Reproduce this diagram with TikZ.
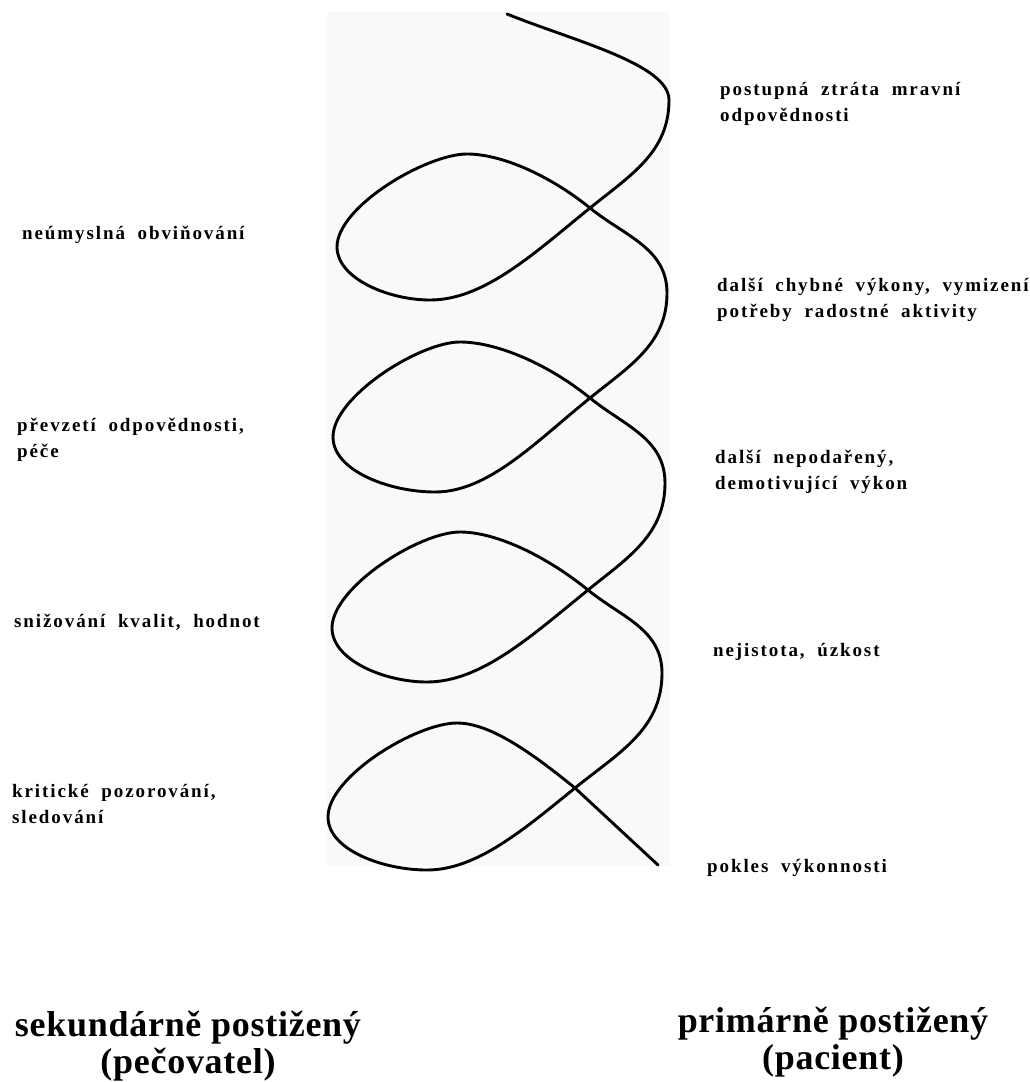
\documentclass[tikz,border=0pt]{standalone}
\usepackage{fontspec}
\setmainfont{Liberation Serif}
\newfontfamily\lblfont[LetterSpace=10,WordSpace=1.9]{Liberation Serif}
\newfontfamily\ttlfont[LetterSpace=2]{Liberation Serif}
\usetikzlibrary{positioning}
\definecolor{scangray}{RGB}{249,249,249}
\tikzset{lbl/.style={anchor=base west,align=left,inner sep=0pt,font=\lblfont\bfseries\fontsize{19}{26}\selectfont},ttl/.style={anchor=base,align=center,inner sep=0pt,font=\ttlfont\bfseries\fontsize{36}{37}\selectfont},curve/.style={line width=2.9pt,line cap=round,line join=round}}

\begin{document}
\begin{tikzpicture}[x=1pt,y=1pt]
\useasboundingbox (0,0) rectangle (1030,-1082);
\fill[scangray] (327,-12) rectangle (670,-866);
% turning points of the curve
\coordinate (s) at (507,-14);
\coordinate (r0) at (669,-100);
\coordinate (c1) at (590,-208);
\coordinate (b1) at (430,-300);
\coordinate (l1) at (337,-247);
\coordinate (t1) at (467,-154);
\coordinate (r1) at (667,-293);
\coordinate (c2) at (590,-398);
\coordinate (b2) at (435,-492);
\coordinate (l2) at (333,-437);
\coordinate (t2) at (460,-342);
\coordinate (r2) at (665,-483);
\coordinate (c3) at (588,-590);
\coordinate (b3) at (427,-682);
\coordinate (l3) at (332,-628);
\coordinate (t3) at (460,-532);
\coordinate (r3) at (662,-673);
\coordinate (c4) at (575,-788);
\coordinate (b4) at (427,-870);
\coordinate (l4) at (328,-817);
\coordinate (t4) at (457,-723);
\coordinate (e) at (658,-865);
\tikzset{down/.style={out=-141,in=0,in looseness=0.75},
  tip/.style={out=180,in=-90,in looseness=0.75},
  up/.style={out=90,in=180,out looseness=0.65,in looseness=0.65},
  over/.style={out=0,in=141,out looseness=0.65}}
\draw[curve] (s) to[out=-22,in=90,in looseness=0.5] (r0)
  to[out=-90,in=39] (c1) to[down] (b1) to[tip] (l1) to[up] (t1)
  to[over] (c1) to[out=-39,in=90] (r1)
  to[out=-90,in=39] (c2) to[down] (b2) to[tip] (l2) to[up] (t2)
  to[over] (c2) to[out=-39,in=90] (r2)
  to[out=-90,in=39] (c3) to[down] (b3) to[tip] (l3) to[up] (t3)
  to[over] (c3) to[out=-39,in=90] (r3)
  to[out=-90,in=39] (c4) to[down] (b4) to[tip] (l4) to[up] (t4)
  to[over] (c4) -- (e);
% carer side
\node[lbl] (blame) at (22,-239) {neúmyslná obviňování};
\node[lbl] (care) at (17,-457) {převzetí odpovědnosti,\\péče};
\node[lbl] (values) at (14,-627) {snižování kvalit, hodnot};
\node[lbl] (watch) at (12,-823) {kritické pozorování,\\sledování};
% patient side
\node[lbl] (moral) at (720,-121) {postupná ztráta mravní\\odpovědnosti};
\node[lbl] (errors) at (717,-317) {další chybné výkony, vymizení\\potřeby radostné aktivity};
\node[lbl] (failure) at (715,-489) {další nepodařený,\\demotivující výkon};
\node[lbl] (anxiety) at (713,-656) {nejistota, úzkost};
\node[lbl] (decline) at (707,-872) {pokles výkonnosti};
% roles
\node[ttl] (carer) at (188,-1073) {sekundárně postižený\\(pečovatel)};
\node[ttl] (patient) at (833,-1069) {primárně postižený\\(pacient)};
\end{tikzpicture}
\end{document}
